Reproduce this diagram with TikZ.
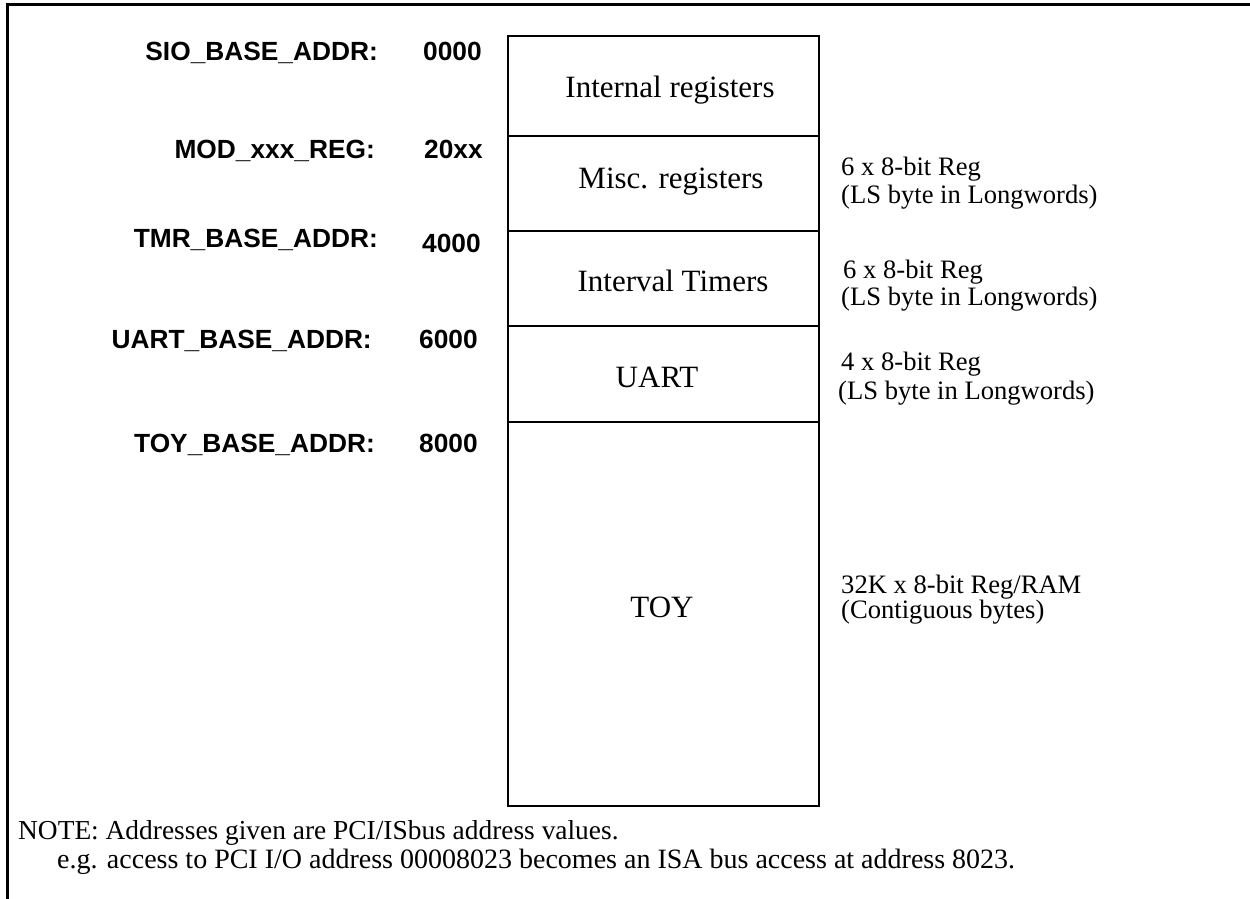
\documentclass[tikz,border=0pt]{standalone}
\usepackage{fontspec}
\setmainfont{Liberation Serif}
\setsansfont{Liberation Sans}
\begin{document}
\begin{tikzpicture}[x=1pt,y=-1pt,
  sect/.style={draw,line width=2pt,minimum width=311pt,inner sep=0pt,anchor=north west},
  addr/.style={font=\sffamily\bfseries\fontsize{26.3}{30}\selectfont,inner sep=0pt},
  boxtxt/.style={font=\fontsize{31}{36}\selectfont,inner sep=0pt,anchor=base},
  note/.style={font=\fontsize{26.6}{27}\selectfont,inner sep=0pt,anchor=base west},
  frame/.style={line width=3pt}]
\useasboundingbox (0,0) rectangle (1250,899);
% frame (top and left only)
\coordinate (ftr) at (1250,4.5);
\coordinate (ftl) at (7,4.5);
\coordinate (fbl) at (7,899);
\draw[frame] (ftr) -- (ftl) -- (fbl);
% memory map sections
\node[sect,minimum height=100pt] (s1) at (507,35) {};
\node[sect,minimum height=95pt]  (s2) at (507,135) {};
\node[sect,minimum height=95pt]  (s3) at (507,230) {};
\node[sect,minimum height=96pt]  (s4) at (507,325) {};
\node[sect,minimum height=384pt] (s5) at (507,421) {};
% section labels
\node[boxtxt] (t1) at (670,97)  {Internal registers};
\node[boxtxt] (t2) at (671,188) {Misc. registers};
\node[boxtxt] (t3) at (673,291) {Interval Timers};
\node[boxtxt] (t4) at (657,387) {UART};
\node[boxtxt] (t5) at (662,617) {TOY};
% address names
\node[addr,anchor=base east] (a1) at (378,60)  {SIO\_BASE\_ADDR:};
\node[addr,anchor=base east] (a2) at (375,158) {MOD\_xxx\_REG:};
\node[addr,anchor=base east] (a3) at (378,247) {TMR\_BASE\_ADDR:};
\node[addr,anchor=base east] (a4) at (372,348) {UART\_BASE\_ADDR:};
\node[addr,anchor=base east] (a5) at (375,452) {TOY\_BASE\_ADDR:};
% address values
\node[addr,anchor=base west] (v1) at (423,60)  {0000};
\node[addr,anchor=base west] (v2) at (424,158) {20xx};
\node[addr,anchor=base west] (v3) at (422,252) {4000};
\node[addr,anchor=base west] (v4) at (419,348) {6000};
\node[addr,anchor=base west] (v5) at (419,452) {8000};
% right-side notes
\node[note] (n1a) at (841,175) {6 x 8-bit Reg};
\node[note] (n1b) at (841,203) {(LS byte in Longwords)};
\node[note] (n2a) at (843,278) {6 x 8-bit Reg};
\node[note] (n2b) at (841,305) {(LS byte in Longwords)};
\node[note] (n3a) at (841,370) {4 x 8-bit Reg};
\node[note] (n3b) at (838,399) {(LS byte in Longwords)};
\node[note] (n5a) at (841,593) {32K x 8-bit Reg/RAM};
\node[note] (n5b) at (841,618) {(Contiguous bytes)};
% footnote
\node[note,font=\fontsize{27.4}{28}\selectfont] (f1) at (18,839) {NOTE: Addresses given are PCI/ISbus address values.};
\node[note,font=\fontsize{28}{28}\selectfont] (f2) at (57,868) {e.g. access to PCI I/O address 00008023 becomes an ISA bus access at address 8023.};
\end{tikzpicture}
\end{document}
